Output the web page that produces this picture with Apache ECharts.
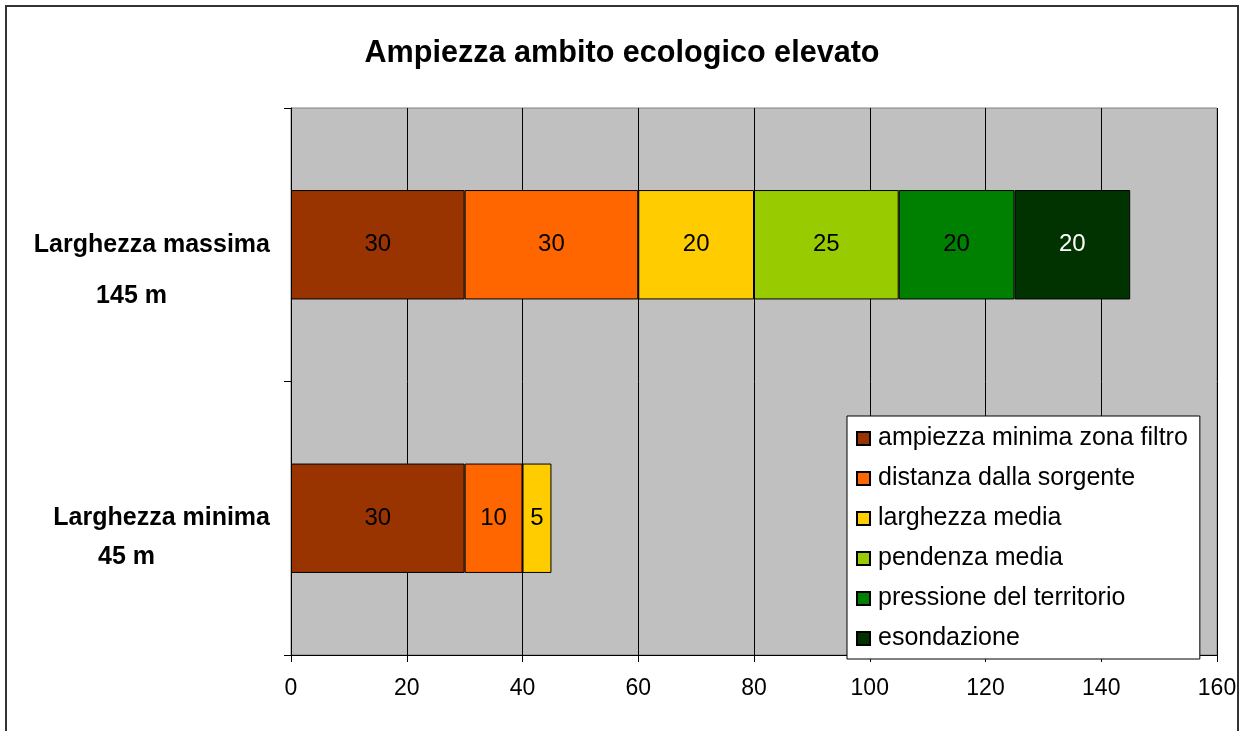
<!DOCTYPE html>
<html>
<head>
<meta charset="utf-8">
<script src="https://cdn.jsdelivr.net/npm/echarts@6/dist/echarts.min.js"></script>
<style>html,body{margin:0;padding:0;background:#fff;}#c{width:1244px;height:731px;}</style>
</head>
<body>
<div id="c"></div>
<script>
const categories = ['Larghezza minima', 'Larghezza massima'];
const subLabels = ['45 m', '145 m'];
const seriesNames = ['ampiezza minima zona filtro', 'distanza dalla sorgente', 'larghezza media', 'pendenza media', 'pressione del territorio', 'esondazione'];
const ampiezza = [30, 30];
const distanza = [10, 30];
const larghezza = [5, 20];
const pendenza = [null, 25];
const pressione = [null, 20];
const esondazione = [null, 20];
const colors = ['#993300', '#FF6600', '#FFCC00', '#99CC00', '#008000', '#003300'];
const labelColors = ['#000', '#000', '#000', '#000', '#000', '#fff'];
const xTicks = [0, 20, 40, 60, 80, 100, 120, 140, 160];

const values = [ampiezza, distanza, larghezza, pendenza, pressione, esondazione];
const FONT = '"Liberation Sans", Arial, sans-serif';

const catStyle = (lh, pr) => ({fontFamily: FONT, fontSize: 25, fontWeight: 'bold', color: '#000', lineHeight: lh, padding: [0, pr, 0, 0]});

const chart = echarts.init(document.getElementById('c'), null, {renderer: 'canvas'});
chart.setOption({
  animation: false,
  backgroundColor: '#fff',
  textStyle: {fontFamily: FONT},
  title: {
    text: 'Ampiezza ambito ecologico elevato',
    left: 'center', top: 33,
    textStyle: {fontFamily: FONT, fontSize: 30.6, fontWeight: 'bold', color: '#000'}
  },
  graphic: [{
    type: 'rect', silent: true, z: -1,
    shape: {x: 6, y: 6, width: 1232, height: 800},
    style: {fill: 'none', stroke: '#333', lineWidth: 2}
  }],
  grid: {
    left: 291, right: 1244 - 1217, top: 108, bottom: 731 - 655,
    show: true, backgroundColor: '#C0C0C0', borderColor: '#808080', borderWidth: 1
  },
  legend: {
    orient: 'vertical', left: 847, top: 416,
    backgroundColor: '#fff', borderColor: '#000', borderWidth: 1,
    padding: [10, 12, 8, 9],
    itemWidth: 13, itemHeight: 13, itemGap: 15,
    icon: 'rect',
    textStyle: {fontFamily: FONT, fontSize: 25, color: '#000', padding: [0, 0, 0, 3]},
    data: seriesNames
  },
  xAxis: {
    type: 'value', min: 0, max: 160, interval: 20,
    axisLine: {show: true, lineStyle: {color: '#000', width: 1}},
    axisTick: {show: true, length: 7, lineStyle: {color: '#000'}},
    axisLabel: {fontFamily: FONT, fontSize: 23, color: '#000', margin: 22,
      formatter: v => xTicks.includes(v) ? String(v) : ''},
    splitLine: {show: true, lineStyle: {color: '#000', width: 1}}
  },
  yAxis: {
    type: 'category', data: categories,
    axisLine: {show: true, lineStyle: {color: '#000', width: 1}},
    axisTick: {show: true, length: 7, lineStyle: {color: '#000'}},
    axisLabel: {
      margin: 21, align: 'right',
      formatter: function (v, i) {
        const k = i === 1 ? '1' : '0';
        return '{s' + k + '| }\n{a' + k + '|' + v + '}\n{b' + k + '|' + subLabels[i] + '}';
      },
      rich: {
        s1: catStyle(51, 0), a1: catStyle(51, 0), b1: catStyle(51, 103),
        s0: catStyle(39, 0), a0: catStyle(39, 0), b0: catStyle(39, 115)
      }
    }
  },
  series: seriesNames.map((name, k) => ({
    name: name, type: 'bar', stack: 'tot',
    data: values[k],
    barCategoryGap: '60%',
    itemStyle: {color: colors[k], borderColor: '#000', borderWidth: 1},
    label: {show: true, position: 'inside', fontFamily: FONT, fontSize: 24, color: labelColors[k]}
  }))
});
</script>
</body>
</html>
